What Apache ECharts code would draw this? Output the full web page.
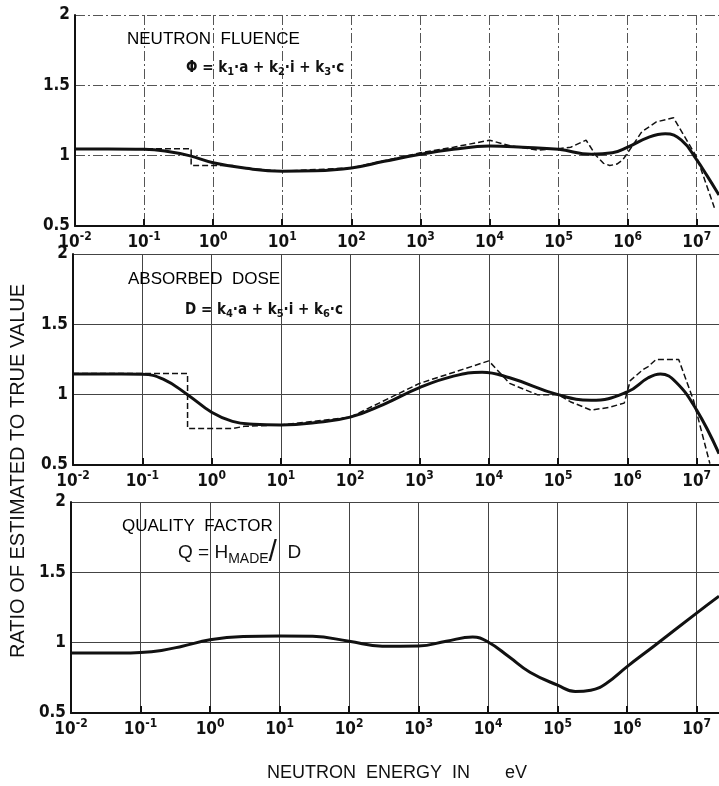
<!DOCTYPE html>
<html>
<head>
<meta charset="utf-8">
<script src="https://cdn.jsdelivr.net/npm/echarts@6/dist/echarts.min.js"></script>
<style>
  html, body { margin: 0; padding: 0; background: #fff; }
  #chart { width: 719px; height: 786px; }
</style>
</head>
<body>
<div id="chart"></div>
<script>
// Ratio of estimated to true value versus neutron energy (eV).
// Each list holds [energy in eV, ratio] pairs.

// Neutron fluence: smooth fit and stepped estimate
const fluenceFit = [
  [0.01, 1.047], [0.03, 1.047], [0.1, 1.045], [0.2, 1.033], [0.45, 1.0],
  [1, 0.95], [3, 0.91], [10, 0.89], [30, 0.893], [100, 0.913], [300, 0.96],
  [1000, 1.01], [3000, 1.045], [10000, 1.068], [30000, 1.06], [100000, 1.045],
  [300000, 1.01], [600000, 1.02], [1e6, 1.06], [2e6, 1.13], [3.5e6, 1.155],
  [6e6, 1.11], [1e7, 0.97], [1.4e7, 0.86], [2.1e7, 0.72]
];
const fluenceStep = [
  [0.01, 1.05], [0.48, 1.05], [0.48, 0.93], [1.9, 0.93], [3, 0.91], [10, 0.89],
  [100, 0.913], [1000, 1.02], [3000, 1.06], [10000, 1.11], [20000, 1.07],
  [50000, 1.04], [100000, 1.05], [150000, 1.06], [250000, 1.11], [350000, 1.0],
  [450000, 0.945], [550000, 0.93], [700000, 0.94], [850000, 0.97], [1e6, 1.02],
  [1.6e6, 1.17], [2.6e6, 1.24], [4.6e6, 1.27], [1e7, 0.99], [1.8e7, 0.63]
];

// Absorbed dose: smooth fit and stepped estimate
const doseFit = [
  [0.01, 1.147], [0.05, 1.147], [0.1, 1.145], [0.2, 1.11], [0.45, 1.0],
  [1, 0.875], [2, 0.81], [4, 0.79], [10, 0.785], [30, 0.8], [100, 0.84],
  [300, 0.93], [1000, 1.05], [3000, 1.13], [8000, 1.16], [20000, 1.12],
  [100000, 1.0], [300000, 0.96], [1e6, 1.02], [2e6, 1.12], [3e6, 1.147],
  [5e6, 1.09], [1e7, 0.89], [2.1e7, 0.58]
];
const doseStep = [
  [0.01, 1.15], [0.45, 1.15], [0.45, 0.76], [2, 0.76], [3, 0.775], [10, 0.785],
  [100, 0.84], [1000, 1.08], [10000, 1.24], [20000, 1.08], [50000, 1.0],
  [100000, 1.0], [150000, 0.95], [300000, 0.89], [550000, 0.91], [900000, 0.94],
  [1.1e6, 1.1], [1.7e6, 1.18], [2e6, 1.2], [2.6e6, 1.25], [5.5e6, 1.25],
  [9e6, 0.96], [1.55e7, 0.51]
];

// Quality factor
const qualityFit = [
  [0.01, 0.926], [0.05, 0.926], [0.1, 0.93], [0.2, 0.945], [0.4, 0.975],
  [1, 1.02], [3, 1.043], [10, 1.047], [30, 1.045], [100, 1.01], [300, 0.975],
  [1000, 0.976], [2500, 1.01], [6000, 1.04], [10000, 1.005],
  [20000, 0.9], [40000, 0.79], [100000, 0.698], [180000, 0.653],
  [300000, 0.662], [500000, 0.71], [1e6, 0.83], [2.5e6, 0.98], [1e7, 1.21],
  [2.1e7, 1.33]
];

// Ratio axis ticks
const ratioMin = 0.5, ratioMax = 2, ratioStep = 0.5;
// Energy axis range in eV
const energyMin = 0.01, energyMax = 2.1e7;

const INK = '#111';
const NARROW = "'Liberation Sans Narrow', 'DejaVu Sans Condensed', sans-serif";
const SANS = "'Liberation Sans', 'DejaVu Sans', sans-serif";

const panels = [
  { left: 75, top: 15, grid: { type: [10, 3, 2, 3], color: '#555' } },
  { left: 73, top: 254, grid: { type: 'solid', color: '#444' } },
  { left: 71, top: 502, grid: { type: 'solid', color: '#444' } }
];
const decadePx = 69.56;
const plotWidth = decadePx * Math.log10(energyMax / energyMin);

const chart = echarts.init(document.getElementById('chart'), null, { renderer: 'canvas' });

const grids = [], xAxes = [], yAxes = [];
panels.forEach((p, i) => {
  grids.push({ left: p.left, top: p.top, width: plotWidth, height: 211, containLabel: false });
  xAxes.push({
    type: 'log', logBase: 10, gridIndex: i, min: energyMin, max: energyMax, splitNumber: 10,
    axisLine: { show: true, onZero: false, lineStyle: { color: INK, width: 2 } },
    axisTick: { show: true, inside: true, length: 7, lineStyle: { color: INK, width: 2 } },
    minorTick: { show: false },
    axisLabel: {
      show: true, margin: 5, showMaxLabel: false, color: INK,
      formatter: v => '{b|10}{e|' + Math.round(Math.log10(v)) + '}',
      rich: {
        b: { fontFamily: NARROW, fontSize: 17, fontWeight: 'bold', color: INK },
        e: { fontFamily: NARROW, fontSize: 12, fontWeight: 'bold', color: INK, padding: [0, 0, 11, 0] }
      }
    },
    splitLine: { show: true, lineStyle: { color: p.grid.color, width: 1, type: p.grid.type } }
  });
  yAxes.push({
    type: 'value', gridIndex: i, min: ratioMin, max: ratioMax, interval: ratioStep,
    axisLine: { show: true, onZero: false, lineStyle: { color: INK, width: 2 } },
    axisTick: { show: false },
    axisLabel: {
      show: true, margin: 5, color: INK, fontFamily: NARROW, fontSize: 17, fontWeight: 'bold',
      formatter: v => String(v)
    },
    splitLine: { show: true, lineStyle: { color: p.grid.color, width: 1, type: p.grid.type } }
  });
});

const fitLine = (data, i) => ({
  type: 'line', data, xAxisIndex: i, yAxisIndex: i, showSymbol: false, smooth: 0.45,
  lineStyle: { color: INK, width: 3 }, z: 5, animation: false
});
const stepLine = (data, i) => ({
  type: 'line', data, xAxisIndex: i, yAxisIndex: i, showSymbol: false, smooth: false,
  lineStyle: { color: INK, width: 1.5, type: [6, 3] }, z: 4, animation: false
});

const titleStyle = { fontFamily: SANS, fontSize: 17, fontWeight: 'normal', color: '#000' };
const formulaRich = {
  b: { fontFamily: NARROW, fontSize: 15, fontWeight: 'bold', color: INK },
  s: { fontFamily: NARROW, fontSize: 11, fontWeight: 'bold', color: INK, padding: [8, 0, 0, 0] },
  q: { fontFamily: SANS, fontSize: 19, fontWeight: 'normal', color: INK },
  m: { fontFamily: SANS, fontSize: 14, fontWeight: 'normal', color: INK, padding: [12, 0, 0, 0] },
  sl: { fontFamily: SANS, fontSize: 30, fontWeight: 'normal', color: INK }
};

chart.setOption({
  backgroundColor: '#fff',
  animation: false,
  grid: grids,
  xAxis: xAxes,
  yAxis: yAxes,
  title: [
    { text: 'NEUTRON  FLUENCE', left: 127, top: 31, padding: 0, textStyle: titleStyle },
    { text: '{b|Φ = k}{s|1}{b|·a + k}{s|2}{b|·i + k}{s|3}{b|·c}',
      left: 186, top: 59, padding: 0, textStyle: { fontWeight: 'normal', rich: formulaRich } },
    { text: 'ABSORBED  DOSE', left: 128, top: 271, padding: 0, textStyle: titleStyle },
    { text: '{b|D = k}{s|4}{b|·a + k}{s|5}{b|·i + k}{s|6}{b|·c}',
      left: 185, top: 301, padding: 0, textStyle: { fontWeight: 'normal', rich: formulaRich } },
    { text: 'QUALITY  FACTOR', left: 122, top: 518, padding: 0, textStyle: titleStyle },
    { text: '{q|Q = H}{m|MADE}{sl|/}{q|  D}', left: 178, top: 538, padding: 0,
      textStyle: { fontWeight: 'normal', rich: formulaRich } }
  ],
  graphic: [
    { type: 'text', x: 18, y: 471, rotation: Math.PI / 2,
      style: { text: 'RATIO OF ESTIMATED TO TRUE VALUE', font: '20px ' + SANS, fill: INK,
        textAlign: 'center', textVerticalAlign: 'middle' } },
    { type: 'text', x: 267, y: 773,
      style: { text: 'NEUTRON  ENERGY  IN', font: '18px ' + SANS, fill: INK,
        textAlign: 'left', textVerticalAlign: 'middle' } },
    { type: 'text', x: 505, y: 773,
      style: { text: 'eV', font: '18px ' + SANS, fill: INK,
        textAlign: 'left', textVerticalAlign: 'middle' } }
  ],
  series: [
    stepLine(fluenceStep, 0), fitLine(fluenceFit, 0),
    stepLine(doseStep, 1), fitLine(doseFit, 1),
    fitLine(qualityFit, 2)
  ]
});
</script>
</body>
</html>
